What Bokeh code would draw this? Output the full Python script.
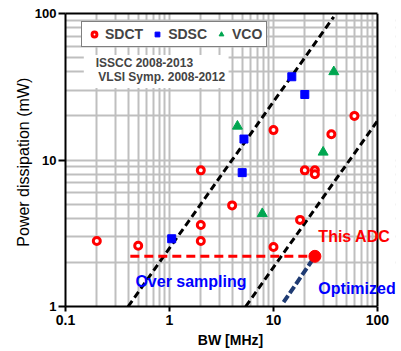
from bokeh.plotting import figure
from bokeh.models import (Label, BoxAnnotation, Legend, LegendItem, FixedTicker,
                          LogAxis, Span)
from bokeh.embed import file_html
from bokeh.resources import INLINE

# ---- data ----
sdct_bw = [0.2, 0.5, 2, 2, 2, 4, 10, 10, 18, 20, 25, 25, 36, 60]
sdct_pw = [2.8, 2.6, 3.6, 2.8, 8.5, 4.9, 16, 2.55, 3.9, 8.5, 8.5, 8.0, 15, 20]

sdsc_bw = [1.05, 5.2, 5.0, 15, 20]
sdsc_pw = [2.9, 13.9, 8.2, 37, 28]

vco_bw = [4.5, 7.8, 30, 38]
vco_pw = [17, 4.3, 11.3, 40]

this_adc_bw = [25]
this_adc_pw = [2.2]

# trend lines (FoM boundaries)
line_a_bw = [0.4, 38]
line_a_pw = [1.0, 95]
line_b_bw = [5.4, 100]
line_b_pw = [1.0, 18.5]
opt_bw = [12.5, 25]
opt_pw = [1.07, 2.2]
ref_bw = [0.42, 25]
ref_pw = [2.2, 2.2]

x_ticks = [0.1, 1, 10, 100]
y_ticks = [1, 10, 100]
x_minor = [m * d for d in [0.1, 1, 10] for m in range(2, 10)]
y_minor = [m * d for d in [1, 10] for m in range(2, 10)]

X_MIN, X_MAX = 0.1, 100
Y_MIN, Y_MAX = 1, 100
X_VIEW_MAX = 149   # frame extends a little past the axis so the outer labels are not clipped

FONT = "Liberation Sans"
RED = "#ff0000"
BLUE = "#0000ff"
GREEN = "#00a650"
NAVY = "#1f3b73"
GRID = "#bfbfbf"

p = figure(width=400, height=350, x_axis_type="log", y_axis_type="log",
           x_range=(X_MIN, X_VIEW_MAX), y_range=(Y_MIN, Y_MAX),
           output_backend="svg", toolbar_location=None,
           min_border_left=65, min_border_right=5,
           min_border_top=13, min_border_bottom=43)

p.outline_line_color = None
p.background_fill_color = "white"

p.xaxis.ticker = FixedTicker(ticks=x_ticks, minor_ticks=x_minor)
p.yaxis.ticker = FixedTicker(ticks=y_ticks, minor_ticks=y_minor)
p.xgrid.ticker = FixedTicker(ticks=x_ticks, minor_ticks=x_minor)
p.ygrid.ticker = FixedTicker(ticks=y_ticks, minor_ticks=y_minor)
for g in (p.xgrid, p.ygrid):
    g.grid_line_color = GRID
    g.grid_line_width = 2
    g.minor_grid_line_color = GRID
    g.minor_grid_line_width = 2

p.xaxis.bounds = (X_MIN, X_MAX)
p.xaxis.major_label_overrides = {0.1: "0.1", 1: "1", 10: "10", 100: "100"}
p.yaxis.major_label_overrides = {1: "1", 10: "10", 100: "100"}

for ax in (p.xaxis, p.yaxis):
    ax.axis_line_color = "black"
    ax.axis_line_width = 2
    ax.major_tick_line_color = "black"
    ax.major_tick_line_width = 2
    ax.major_tick_in = 0
    ax.minor_tick_line_color = None
    ax.major_label_text_font = FONT
    ax.major_label_text_font_style = "bold"
    ax.major_label_text_color = "black"
    ax.axis_label_text_font = FONT
    ax.axis_label_text_color = "black"

p.xaxis.major_tick_out = 5
p.xaxis.major_label_standoff = 3
p.xaxis.major_label_text_font_size = "14px"
p.xaxis.axis_label = "BW [MHz]"
p.xaxis.axis_label_text_font_size = "14px"
p.xaxis.axis_label_text_font_style = "bold"
p.xaxis.axis_label_standoff = 4

p.yaxis.major_tick_out = 7
p.yaxis.major_label_standoff = 2
p.yaxis.major_label_text_font_size = "13px"
p.yaxis.axis_label = "Power dissipation  (mW)"
p.yaxis.axis_label_text_font_size = "16px"
p.yaxis.axis_label_text_font_style = "normal"
p.yaxis.axis_label_standoff = 0

# top border of the plot box (from 0.1 to 100 only)
top_ax = LogAxis(ticker=FixedTicker(ticks=[]), bounds=(X_MIN, X_MAX),
                 axis_line_color="black", axis_line_width=2,
                 major_tick_line_color=None, minor_tick_line_color=None,
                 major_label_text_font_size="0px")
p.add_layout(top_ax, "above")

# trend lines
p.line(line_a_bw, line_a_pw, line_color="black", line_width=3, line_dash="7 4")
p.line(line_b_bw, line_b_pw, line_color="black", line_width=3, line_dash="7 4")
p.line(opt_bw, opt_pw, line_color=NAVY, line_width=4, line_dash="8 3")
p.line(ref_bw, ref_pw, line_color=RED, line_width=3, line_dash="9 5")

# markers
r_sdct = p.scatter(sdct_bw, sdct_pw, marker="circle", size=7, fill_color="white",
                   line_color=RED, line_width=3)
r_sdsc = p.scatter(sdsc_bw, sdsc_pw, marker="square", size=8, fill_color=BLUE,
                   line_color=BLUE, line_width=1)
r_vco = p.scatter(vco_bw, vco_pw, marker="triangle", size=10, fill_color=GREEN,
                  line_color=GREEN, line_width=1)
p.scatter(this_adc_bw, this_adc_pw, marker="circle", size=12, fill_color=RED,
          line_color=RED)

# blank area right of the plot box, and its right border
p.add_layout(BoxAnnotation(left=X_MAX, fill_color="white", fill_alpha=1,
                           line_color=None))
p.add_layout(Span(location=X_MAX, dimension="height", line_color="black",
                  line_width=2))

legend = Legend(items=[LegendItem(label="SDCT", renderers=[r_sdct]),
                       LegendItem(label="SDSC", renderers=[r_sdsc]),
                       LegendItem(label="VCO", renderers=[r_vco])],
                orientation="horizontal", location=(16, 259),
                border_line_color="black", border_line_width=1.5,
                background_fill_color="white", background_fill_alpha=1,
                padding=4, spacing=6, margin=0,
                label_text_font=FONT, label_text_font_size="14px",
                label_text_font_style="bold", label_standoff=3,
                glyph_width=16, glyph_height=12, label_height=12)
p.add_layout(legend)

p.add_layout(BoxAnnotation(left=0.15, right=3.7, bottom=31, top=52,
                           fill_color="white", fill_alpha=1, line_color=None))
p.add_layout(Label(x=0.195, y=45.7, text="ISSCC 2008-2013", text_font=FONT,
                   text_font_size="12px", text_font_style="bold",
                   text_baseline="middle", text_align="left"))
p.add_layout(Label(x=0.207, y=36.7, text="VLSI Symp. 2008-2012", text_font=FONT,
                   text_font_size="12px", text_font_style="bold",
                   text_baseline="middle", text_align="left"))

p.add_layout(Label(x=27, y=3.0, text="This ADC", text_font=FONT,
                   text_font_size="16px", text_font_style="bold", text_color=RED,
                   text_baseline="middle", text_align="left"))
p.add_layout(Label(x=27, y=1.32, text="Optimized", text_font=FONT,
                   text_font_size="16px", text_font_style="bold", text_color=BLUE,
                   text_baseline="middle", text_align="left"))
p.add_layout(Label(x=0.47, y=1.48, text="Over sampling", text_font=FONT,
                   text_font_size="16px", text_font_style="bold", text_color=BLUE,
                   text_baseline="middle", text_align="left"))

open("out.html", "w").write(file_html(p, INLINE))
